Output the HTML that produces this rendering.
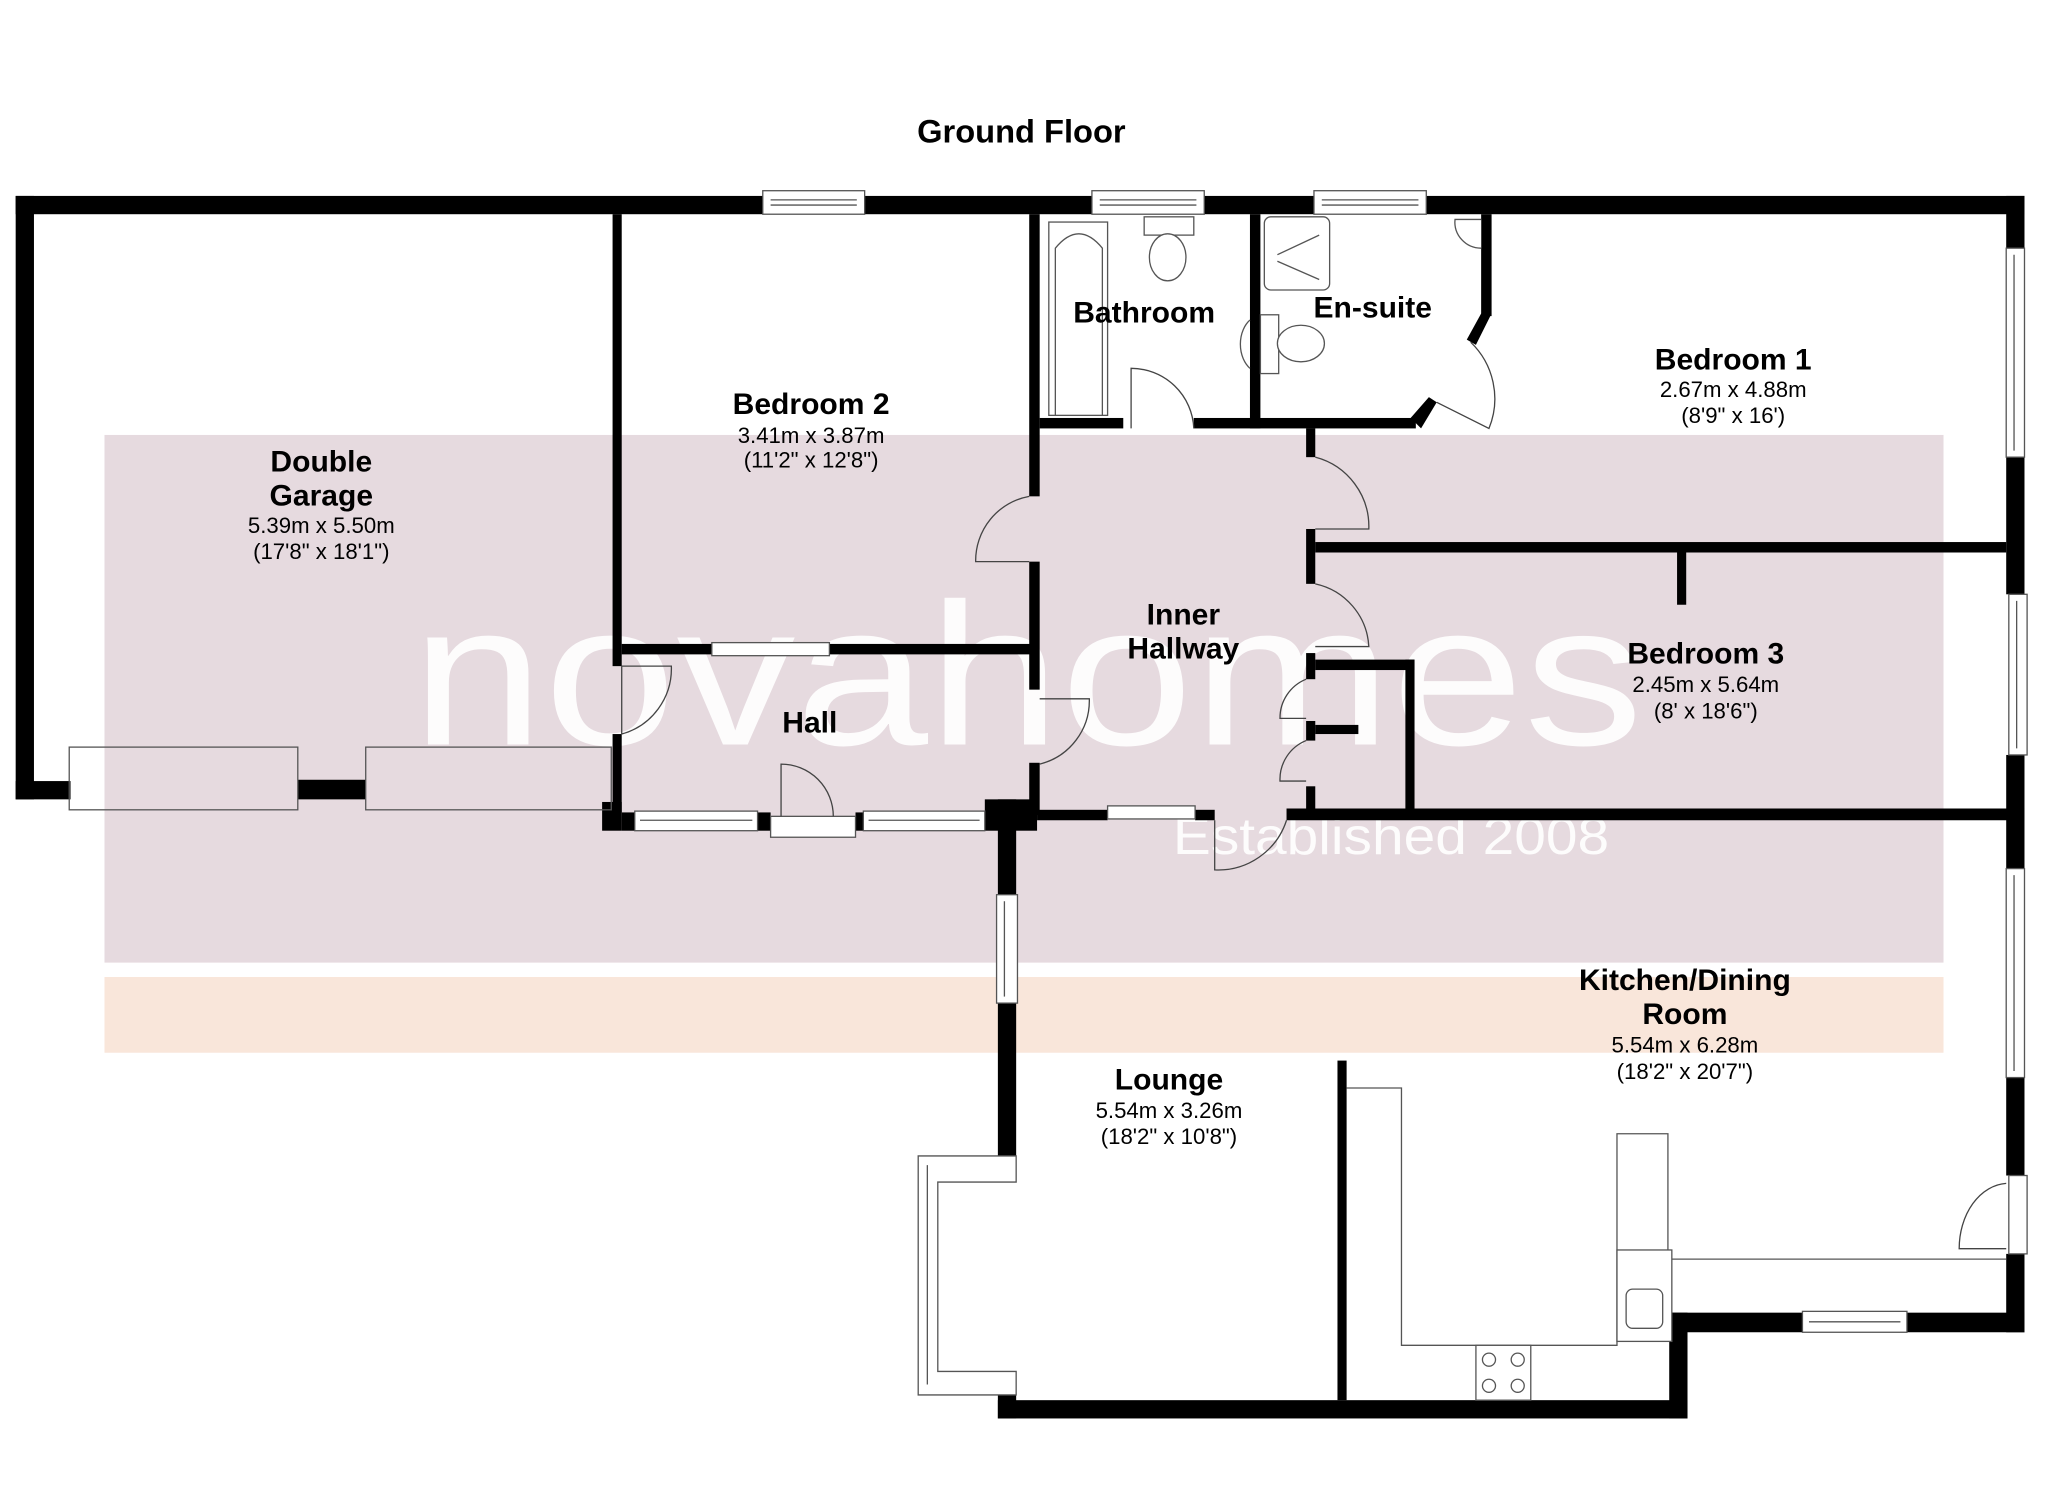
<!DOCTYPE html>
<html><head><meta charset="utf-8"><style>
html,body{margin:0;padding:0;background:#fff;}
svg{display:block}
text{font-family:"Liberation Sans",Arial,sans-serif;}
</style></head><body>
<svg width="2048" height="1489" viewBox="0 0 1568 1140" xmlns="http://www.w3.org/2000/svg">
<rect width="1568" height="1140" fill="#fff"/>
<rect x="80" y="333" width="1408" height="404" fill="#e6dadf"/>
<rect x="80" y="748" width="1408" height="58" fill="#f9e6da"/>

<text x="315" y="570" font-size="155" fill="#fff" fill-opacity="0.9" textLength="943" lengthAdjust="spacingAndGlyphs">novahomes</text>
<text x="898" y="654" font-size="40" fill="#fff" fill-opacity="0.9" textLength="334" lengthAdjust="spacingAndGlyphs">Established 2008</text>

<text x="782" y="109" font-size="25" font-weight="bold" text-anchor="middle" fill="#000">Ground Floor</text>

<g fill="#000">
<rect x="12" y="150" width="1538" height="14"/>
<rect x="12" y="150" width="14" height="462"/>
<rect x="12" y="598" width="42" height="14"/>
<rect x="228" y="597" width="52" height="15"/>
<rect x="469" y="164" width="7" height="346"/>
<rect x="469" y="562" width="7" height="60"/>
<rect x="461" y="614" width="15" height="22"/>
<rect x="476" y="493" width="314" height="8"/>
<rect x="788" y="164" width="8" height="216"/>
<rect x="788" y="430" width="8" height="98"/>
<rect x="788" y="584" width="8" height="40"/>
<rect x="476" y="622" width="10" height="14"/>
<rect x="580" y="622" width="10" height="14"/>
<rect x="655" y="622" width="6" height="14"/>
<rect x="754" y="612" width="40" height="24"/>
<rect x="796" y="320" width="64" height="8"/>
<rect x="914" y="320" width="50" height="8"/>
<rect x="957" y="164" width="8" height="164"/>
<rect x="964" y="320" width="120" height="8"/>
<polygon points="1080,320 1088,328 1100,308 1094,304"/>
<rect x="1134" y="164" width="8" height="78"/>
<polygon points="1134,240 1142,240 1130,264 1123,260"/>
<rect x="1000" y="328" width="7" height="22"/>
<rect x="1000" y="405" width="7" height="42"/>
<rect x="1007" y="415" width="529" height="8"/>
<rect x="1284" y="423" width="7" height="40"/>
<rect x="1000" y="500" width="7" height="20"/>
<rect x="1000" y="552" width="7" height="15"/>
<rect x="1000" y="602" width="7" height="25"/>
<rect x="1007" y="505" width="76" height="8"/>
<rect x="1007" y="555" width="33" height="7"/>
<rect x="1076" y="505" width="7" height="122"/>
<rect x="794" y="620" width="54" height="8"/>
<rect x="915" y="620" width="15" height="8"/>
<rect x="985" y="619" width="565" height="9"/>
<rect x="1536" y="150" width="14" height="40"/>
<rect x="1536" y="350" width="14" height="105"/>
<rect x="1536" y="578" width="14" height="87"/>
<rect x="1536" y="825" width="14" height="75"/>
<rect x="1536" y="960" width="14" height="60"/>
<rect x="1278" y="1005" width="102" height="15"/>
<rect x="1460" y="1005" width="90" height="15"/>
<rect x="1278" y="1005" width="14" height="81"/>
<rect x="764" y="612" width="14" height="73"/>
<rect x="764" y="768" width="14" height="137"/>
<rect x="764" y="1050" width="14" height="36"/>
<rect x="764" y="1072" width="528" height="14"/>
<rect x="1024" y="812" width="7" height="260"/>
</g>

<g fill="#fff" stroke="#555" stroke-width="1">
<rect x="53" y="572" width="175" height="48" fill="none"/>
<rect x="280" y="572" width="188" height="48" fill="none"/>
<rect x="584" y="146" width="78" height="18"/><line x1="590" y1="153" x2="656" y2="153"/><line x1="590" y1="157" x2="656" y2="157"/>
<rect x="836" y="146" width="86" height="18"/><line x1="842" y1="153" x2="916" y2="153"/><line x1="842" y1="157" x2="916" y2="157"/>
<rect x="1006" y="146" width="86" height="18"/><line x1="1012" y1="153" x2="1086" y2="153"/><line x1="1012" y1="157" x2="1086" y2="157"/>
<rect x="545" y="492" width="90" height="10"/>
<rect x="486" y="621" width="94" height="15"/><line x1="490" y1="628" x2="576" y2="628"/>
<rect x="590" y="625" width="65" height="16"/>
<rect x="661" y="621" width="93" height="15"/><line x1="665" y1="628" x2="750" y2="628"/>
<rect x="848" y="617" width="67" height="10"/>
<rect x="1536" y="190" width="14" height="160"/><line x1="1542" y1="195" x2="1542" y2="345"/>
<rect x="1538" y="455" width="14" height="123"/><line x1="1544" y1="460" x2="1544" y2="573"/>
<rect x="1536" y="665" width="14" height="160"/><line x1="1542" y1="670" x2="1542" y2="820"/>
<rect x="1538" y="900" width="14" height="60"/>
<rect x="1380" y="1004" width="80" height="16"/><line x1="1385" y1="1012" x2="1455" y2="1012"/>
<rect x="763" y="685" width="16" height="83"/><line x1="769" y1="690" x2="769" y2="763"/>
<path d="M778,885 L703,885 L703,1068 L778,1068 L778,1050 L718,1050 L718,905 L778,905 Z"/>
<line x1="710" y1="892" x2="710" y2="1060"/>
<path d="M1031,833 L1073,833 L1073,1030 L1238,1030 L1238,868 L1277,868 L1277,964 L1536,964" fill="none"/>
<rect x="1238" y="957" width="42" height="70"/>
<rect x="1130" y="1030" width="42" height="42"/>
<circle cx="1140" cy="1041" r="5"/><circle cx="1162" cy="1041" r="5"/><circle cx="1140" cy="1061" r="5"/><circle cx="1162" cy="1061" r="5"/>
<rect x="1245" y="987" width="28" height="30" rx="5"/>
<rect x="803" y="170" width="45" height="148" fill="none"/>
<path d="M808,318 L808,190 Q826,168 844,190 L844,318" fill="none"/>
<rect x="876" y="166" width="38" height="14"/>
<ellipse cx="894" cy="197" rx="14" ry="18"/>
<path d="M957,245 A16,22 0 0 0 957,282"/>
<rect x="968" y="166" width="50" height="56" rx="5"/>
<line x1="978" y1="195" x2="1010" y2="180"/><line x1="978" y1="200" x2="1010" y2="214"/>
<rect x="965" y="241" width="14" height="45"/>
<ellipse cx="996" cy="263" rx="18" ry="14"/>
<path d="M1134,168 L1114,168 A20,20 0 0 0 1134,190"/>
</g>

<g fill="none" stroke="#444" stroke-width="1">
<path d="M476,510 L476,562 M476,562 A52,52 0 0 0 514,510 L476,510"/>
<path d="M788,380 A50,50 0 0 0 747,430 L788,430"/>
<path d="M796,535 L834,535 A50,50 0 0 1 796,585"/>
<path d="M598,625 L598,585 A40,40 0 0 1 638,625"/>
<path d="M866,328 L866,282 A48,48 0 0 1 914,328"/>
<path d="M1007,350 A55,55 0 0 1 1048,405 L1007,405"/>
<path d="M1007,447 A52,52 0 0 1 1048,495 L1007,495"/>
<path d="M1000,520 A32,32 0 0 0 980,550 L1000,550"/>
<path d="M1000,567 A32,32 0 0 0 980,598 L1000,598"/>
<path d="M930,628 L930,666 A55,55 0 0 0 985,628"/>
<path d="M1536,906 A38,50 0 0 0 1500,956 L1536,956"/>
<path d="M1100,308 L1140,328 A60,60 0 0 0 1126,262"/>
</g>

<g text-anchor="middle" fill="#000">
<text x="246" y="361" font-size="23" font-weight="bold">Double</text>
<text x="246" y="387" font-size="23" font-weight="bold">Garage</text>
<text x="246" y="408" font-size="17">5.39m x 5.50m</text>
<text x="246" y="428" font-size="17">(17'8" x 18'1")</text>
<text x="621" y="317" font-size="23" font-weight="bold">Bedroom 2</text>
<text x="621" y="339" font-size="17">3.41m x 3.87m</text>
<text x="621" y="358" font-size="17">(11'2" x 12'8")</text>
<text x="876" y="247" font-size="23" font-weight="bold">Bathroom</text>
<text x="1051" y="243" font-size="23" font-weight="bold">En-suite</text>
<text x="1327" y="283" font-size="23" font-weight="bold">Bedroom 1</text>
<text x="1327" y="304" font-size="17">2.67m x 4.88m</text>
<text x="1327" y="324" font-size="17">(8'9" x 16')</text>
<text x="906" y="478" font-size="23" font-weight="bold">Inner</text>
<text x="906" y="504" font-size="23" font-weight="bold">Hallway</text>
<text x="620" y="561" font-size="23" font-weight="bold">Hall</text>
<text x="1306" y="508" font-size="23" font-weight="bold">Bedroom 3</text>
<text x="1306" y="530" font-size="17">2.45m x 5.64m</text>
<text x="1306" y="550" font-size="17">(8' x 18'6")</text>
<text x="1290" y="758" font-size="23" font-weight="bold">Kitchen/Dining</text>
<text x="1290" y="784" font-size="23" font-weight="bold">Room</text>
<text x="1290" y="806" font-size="17">5.54m x 6.28m</text>
<text x="1290" y="826" font-size="17">(18'2" x 20'7")</text>
<text x="895" y="834" font-size="23" font-weight="bold">Lounge</text>
<text x="895" y="856" font-size="17">5.54m x 3.26m</text>
<text x="895" y="876" font-size="17">(18'2" x 10'8")</text>
</g>
</svg>
</body></html>
